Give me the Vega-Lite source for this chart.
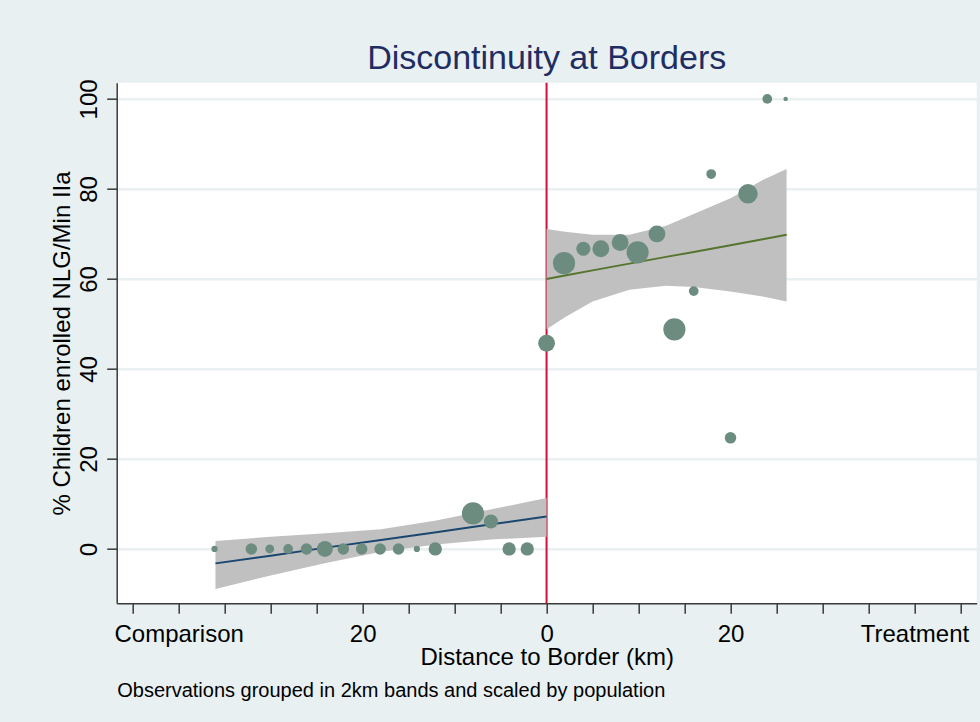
{
  "$schema": "https://vega.github.io/schema/vega-lite/v6.json",
  "width": 860,
  "height": 520.6,
  "autosize": {"type": "none"},
  "padding": {"left": 116.7, "top": 82.7, "right": 3.3, "bottom": 118.7},
  "background": "#e8f0f2",
  "view": {"fill": "white", "stroke": null},
  "title": {
    "text": "Discontinuity at Borders",
    "font": "Liberation Sans",
    "fontSize": 34,
    "fontWeight": "normal",
    "color": "#1f2d62",
    "anchor": "middle",
    "baseline": "alphabetic",
    "offset": 13.4,
    "dy": 38
  },
  "datasets": {
    "border": [{"dist": 0}],
    "fits": [
      {"side": "Comparison", "dist": -36, "fit": -3.2, "lo": -8.9, "hi": 1.8},
      {"side": "Comparison", "dist": -30, "fit": -1.5, "lo": -5.9, "hi": 2.7},
      {"side": "Comparison", "dist": -24, "fit": 0.3, "lo": -3.1, "hi": 3.5},
      {"side": "Comparison", "dist": -18, "fit": 2.0, "lo": -0.6, "hi": 4.4},
      {"side": "Comparison", "dist": -12, "fit": 3.7, "lo": 1.0, "hi": 6.3},
      {"side": "Comparison", "dist": -6, "fit": 5.5, "lo": 2.1, "hi": 8.8},
      {"side": "Comparison", "dist": 0, "fit": 7.2, "lo": 2.7, "hi": 11.3},
      {"side": "Treatment", "dist": 0, "fit": 60.0, "lo": 48.8, "hi": 71.1},
      {"side": "Treatment", "dist": 2, "fit": 60.75, "lo": 51.5, "hi": 70.5},
      {"side": "Treatment", "dist": 5, "fit": 61.9, "lo": 55.0, "hi": 69.8},
      {"side": "Treatment", "dist": 9, "fit": 63.4, "lo": 57.6, "hi": 69.8},
      {"side": "Treatment", "dist": 13, "fit": 64.9, "lo": 58.5, "hi": 71.8},
      {"side": "Treatment", "dist": 16, "fit": 66.0, "lo": 58.2, "hi": 74.4},
      {"side": "Treatment", "dist": 20, "fit": 67.5, "lo": 57.2, "hi": 77.9},
      {"side": "Treatment", "dist": 23.5, "fit": 68.8, "lo": 56.1, "hi": 82.0},
      {"side": "Treatment", "dist": 26.1, "fit": 69.8, "lo": 55.0, "hi": 84.4}
    ],
    "points": [
      {"dist": -36.1, "pct": 0, "pop": 49},
      {"dist": -32.1, "pct": 0, "pop": 169},
      {"dist": -30.1, "pct": 0, "pop": 100},
      {"dist": -28.1, "pct": 0, "pop": 121},
      {"dist": -26.1, "pct": 0, "pop": 169},
      {"dist": -24.1, "pct": 0, "pop": 324},
      {"dist": -22.1, "pct": 0, "pop": 169},
      {"dist": -20.1, "pct": 0, "pop": 169},
      {"dist": -18.1, "pct": 0, "pop": 169},
      {"dist": -16.1, "pct": 0, "pop": 169},
      {"dist": -14.1, "pct": 0, "pop": 49},
      {"dist": -12.1, "pct": 0, "pop": 225},
      {"dist": -8.0, "pct": 7.9, "pop": 625},
      {"dist": -6.05, "pct": 6.1, "pop": 256},
      {"dist": -4.07, "pct": 0, "pop": 225},
      {"dist": -2.1, "pct": 0, "pop": 225},
      {"dist": 0, "pct": 45.7, "pop": 361},
      {"dist": 1.9, "pct": 63.5, "pop": 625},
      {"dist": 4.0, "pct": 66.7, "pop": 256},
      {"dist": 5.9, "pct": 66.7, "pop": 361},
      {"dist": 8.0, "pct": 68.1, "pop": 361},
      {"dist": 9.9, "pct": 65.9, "pop": 625},
      {"dist": 12.0, "pct": 70.0, "pop": 361},
      {"dist": 13.9, "pct": 48.8, "pop": 625},
      {"dist": 16.0, "pct": 57.3, "pop": 121},
      {"dist": 17.9, "pct": 83.3, "pop": 121},
      {"dist": 20.0, "pct": 24.7, "pop": 169},
      {"dist": 21.9, "pct": 78.9, "pop": 484},
      {"dist": 24.0, "pct": 100, "pop": 121},
      {"dist": 26.0, "pct": 100, "pop": 25}
    ]
  },
  "layer": [
    {
      "data": {"name": "border"},
      "mark": {"type": "rule", "color": "#cc1236", "strokeWidth": 2},
      "encoding": {
        "x": {
          "field": "dist",
          "type": "quantitative",
          "scale": {"domain": [-46.74, 46.77], "nice": false, "zero": false},
          "axis": {
            "orient": "bottom",
            "title": "Observations grouped in 2km bands and scaled by population",
            "titleFontSize": 20,
            "titleAnchor": "start",
            "titleAlign": "left",
            "titleX": 0,
            "titleY": 93.4,
            "titleBaseline": "alphabetic",
            "labels": false,
            "ticks": false,
            "domain": false,
            "grid": false
          }
        }
      }
    },
    {
      "data": {"name": "fits"},
      "mark": {"type": "area", "color": "#c0c0c0", "opacity": 1},
      "encoding": {
        "x": {
          "field": "dist",
          "type": "quantitative",
          "scale": {"domain": [-46.74, 46.77], "nice": false, "zero": false},
          "axis": null
        },
        "y": {
          "field": "lo",
          "type": "quantitative",
          "scale": {"domain": [-12.07, 103.6], "nice": false, "zero": false},
          "title": "% Children enrolled NLG/Min IIa"
        },
        "y2": {"field": "hi"},
        "detail": {"field": "side"}
      }
    },
    {
      "data": {"name": "fits"},
      "mark": {"type": "line", "strokeWidth": 2},
      "encoding": {
        "x": {
          "field": "dist",
          "type": "quantitative",
          "scale": {"domain": [-46.74, 46.77], "nice": false, "zero": false},
          "axis": null
        },
        "y": {
          "field": "fit",
          "type": "quantitative",
          "scale": {"domain": [-12.07, 103.6], "nice": false, "zero": false},
          "title": "% Children enrolled NLG/Min IIa"
        },
        "color": {
          "field": "side",
          "type": "nominal",
          "scale": {"domain": ["Comparison", "Treatment"], "range": ["#1a476f", "#55752f"]},
          "legend": null
        }
      }
    },
    {
      "data": {"name": "points"},
      "mark": {"type": "circle", "color": "#6c8c80", "opacity": 1},
      "encoding": {
        "x": {
          "field": "dist",
          "type": "quantitative",
          "scale": {"domain": [-46.74, 46.77], "nice": false, "zero": false},
          "axis": {
            "orient": "bottom",
            "title": "Distance to Border (km)",
            "values": [-45, -40, -35, -30, -25, -20, -15, -10, -5, 0, 5, 10, 15, 20, 25, 30, 35, 40, 45],
            "labelExpr": "datum.value == -40 ? 'Comparison' : datum.value == 40 ? 'Treatment' : (datum.value == -20 || datum.value == 20) ? '20' : datum.value == 0 ? '0' : ''"
          }
        },
        "y": {
          "field": "pct",
          "type": "quantitative",
          "scale": {"domain": [-12.07, 103.6], "nice": false, "zero": false},
          "title": "% Children enrolled NLG/Min IIa",
          "axis": {"values": [0, 20, 40, 60, 80, 100]}
        },
        "size": {
          "field": "pop",
          "type": "quantitative",
          "scale": {"domain": [0, 625], "range": [0, 491]},
          "legend": null
        }
      }
    }
  ],
  "resolve": {"axis": {"x": "independent"}},
  "config": {
    "font": "Liberation Sans",
    "axis": {
      "labelFont": "Liberation Sans",
      "titleFont": "Liberation Sans",
      "labelFontSize": 24,
      "titleFontSize": 24,
      "labelColor": "#000000",
      "titleColor": "#000000",
      "titleFontWeight": "normal",
      "domainColor": "#3a3a3a",
      "domainWidth": 1.5,
      "tickColor": "#3a3a3a",
      "tickWidth": 1.5,
      "tickSize": 10,
      "gridColor": "#e8f0f2",
      "gridWidth": 2.5
    },
    "axisX": {
      "grid": false,
      "labelBaseline": "alphabetic",
      "labelPadding": 28.4,
      "labelFlush": false,
      "labelOverlap": false,
      "titleBaseline": "alphabetic",
      "titleY": 61.5
    },
    "axisY": {
      "grid": true,
      "labelAngle": -90,
      "labelAlign": "center",
      "labelBaseline": "alphabetic",
      "labelPadding": 10.7,
      "titleAngle": -90,
      "titleBaseline": "alphabetic",
      "titleX": -47,
      "titleY": 260.3
    }
  }
}
